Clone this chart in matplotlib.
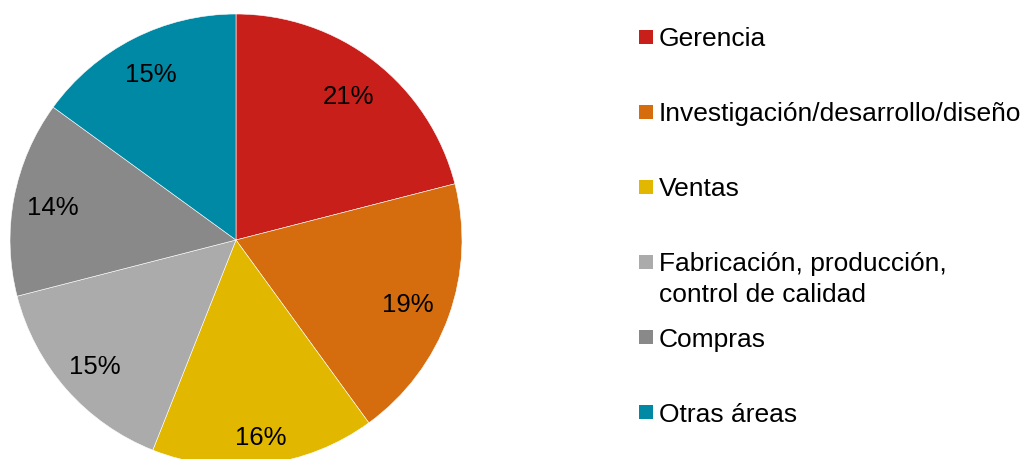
import matplotlib
matplotlib.use("Agg")
import matplotlib.pyplot as plt
from matplotlib.patches import Rectangle
from matplotlib.transforms import offset_copy
import numpy as np

categories = ["Gerencia", "Investigación/desarrollo/diseño", "Ventas",
              "Fabricación, producción,\ncontrol de calidad", "Compras", "Otras áreas"]
values = [21, 19, 16, 15, 14, 15]
colors = ["#C91F1A", "#D56C0E", "#E1B700", "#ABABAB", "#8A898A", "#0089A4"]
label_dist = [0.815, 0.81, 0.87, 0.83, 0.825, 0.83]

plt.rcParams['font.family'] = ['Liberation Sans', 'DejaVu Sans']

W, H = 1026, 459
fig = plt.figure(figsize=(W / 100, H / 100), dpi=100)

cx, cy, R = 236, 240, 226
ax = fig.add_axes([(cx - R) / W, (H - cy - R) / H, 2 * R / W, 2 * R / H])
wedges, texts = ax.pie(values, colors=colors, startangle=90, counterclock=False,
                       radius=1, labels=[f"{v}%" for v in values], labeldistance=0.8,
                       wedgeprops=dict(edgecolor="white", linewidth=0.4),
                       textprops=dict(fontsize=18.5, color="black", ha="center", va="center"))
trans = offset_copy(ax.transData, fig=fig, y=-9.5, units='dots')
for w, t, d in zip(wedges, texts, label_dist):
    ang = np.deg2rad((w.theta1 + w.theta2) / 2)
    t.set_transform(trans)
    t.set_position((d * np.cos(ang), d * np.sin(ang)))
    t.set_ha("center")
    t.set_va("baseline")
ax.set_xlim(-1, 1)
ax.set_ylim(-1, 1)
ax.set_aspect("equal")
ax.axis("off")

# legend
x_marker, msize = 639, 14
x_text = 659
y0, dy, line_dy = 37, 75, 30
for i, (lab, col) in enumerate(zip(categories, colors)):
    yc = y0 + dy * i
    fig.patches.append(Rectangle(((x_marker) / W, (H - yc - msize / 2) / H),
                                 msize / W, msize / H, transform=fig.transFigure,
                                 facecolor=col, edgecolor="none"))
    for j, line in enumerate(lab.split("\n")):
        yb = yc + 9.5 + j * line_dy
        fig.text(x_text / W, (H - yb) / H, line, fontsize=19, color="black",
                 ha="left", va="baseline")

fig.savefig("out.png", dpi=100)
